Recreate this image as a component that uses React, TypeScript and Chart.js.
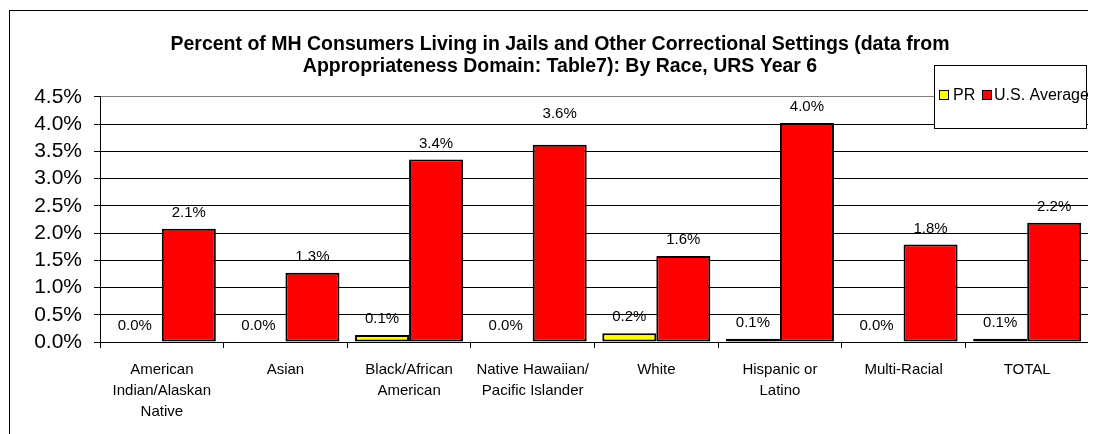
import React, { useEffect, useRef } from "react";
import { Chart, registerables } from "chart.js";

Chart.register(...registerables);

const categories: string[][] = [
  ["American", "Indian/Alaskan", "Native"],
  ["Asian"],
  ["Black/African", "American"],
  ["Native Hawaiian/", "Pacific Islander"],
  ["White"],
  ["Hispanic or", "Latino"],
  ["Multi-Racial"],
  ["TOTAL"],
];
const seriesNames = ["PR", "U.S. Average"];
const prValues = [0, 0, 0.13, 0, 0.16, 0.06, 0, 0.06];
const usValues = [2.08, 1.27, 3.35, 3.62, 1.58, 4.02, 1.79, 2.19];
const seriesColors = ["#FFFF00", "#FF0000"];
const titleLines = [
  "Percent of MH Consumers Living in Jails and Other Correctional Settings (data from",
  "Appropriateness Domain: Table7): By Race, URS Year 6",
];
const yMin = 0;
const yMax = 4.5;
const yStep = 0.5;

const FONT = "'Liberation Sans', Arial, sans-serif";

const framePlugin = {
  id: "frame",
  beforeDraw(chart: any) {
    const { ctx } = chart;
    ctx.save();
    ctx.fillStyle = "#fff";
    ctx.fillRect(0, 0, chart.width, chart.height);
    ctx.strokeStyle = "#000";
    ctx.lineWidth = 1;
    ctx.strokeRect(1.5, 2.5, chart.width + 100, chart.height + 100);
    ctx.restore();
  },
  afterDraw(chart: any) {
    const { ctx, chartArea } = chart;
    ctx.save();
    // right plot border
    ctx.strokeStyle = "#808080";
    ctx.lineWidth = 1;
    ctx.beginPath();
    ctx.moveTo(Math.round(chartArea.right) - 0.5, chartArea.top);
    ctx.lineTo(Math.round(chartArea.right) - 0.5, chartArea.bottom + 6);
    ctx.stroke();

    // legend
    const bx = 926.5, by = 57.5, bw = 152, bh = 63;
    ctx.fillStyle = "#fff";
    ctx.fillRect(bx, by, bw, bh);
    ctx.strokeStyle = "#000";
    ctx.strokeRect(bx, by, bw, bh);
    const cy = 87;
    ctx.font = `16px ${FONT}`;
    ctx.textBaseline = "middle";
    ctx.textAlign = "left";
    const items = [
      { sx: 931, tx: 945 },
      { sx: 974, tx: 986 },
    ];
    items.forEach((it, i) => {
      ctx.fillStyle = seriesColors[i];
      ctx.fillRect(it.sx + 0.5, cy - 5 + 0.5, 9, 9);
      ctx.strokeStyle = "#000";
      ctx.strokeRect(it.sx + 0.5, cy - 5 + 0.5, 9, 9);
      ctx.fillStyle = "#000";
      ctx.fillText(seriesNames[i], it.tx, cy + 1);
    });
    ctx.restore();
  },
  afterDatasetsDraw(chart: any) {
    const { ctx } = chart;
    ctx.save();
    ctx.font = `15px ${FONT}`;
    ctx.fillStyle = "#000";
    ctx.textAlign = "center";
    ctx.textBaseline = "middle";
    chart.data.datasets.forEach((ds: any, di: number) => {
      const meta = chart.getDatasetMeta(di);
      meta.data.forEach((el: any, i: number) => {
        const v = ds.data[i] as number;
        const lift = di === 1 && i === 3 ? 31 : 16;
        ctx.fillText(v.toFixed(1) + "%", el.x, el.y - lift);
      });
    });
    ctx.restore();
  },
};

export default function App() {
  const ref = useRef<HTMLCanvasElement>(null);
  useEffect(() => {
    if (!ref.current) return;
    const chart = new Chart(ref.current, {
      type: "bar",
      data: {
        labels: categories,
        datasets: [
          {
            label: seriesNames[0],
            data: prValues,
            backgroundColor: seriesColors[0],
            borderColor: "#000",
            borderWidth: 2,
            borderSkipped: false,
            barPercentage: 1,
            categoryPercentage: 0.874,
          },
          {
            label: seriesNames[1],
            data: usValues,
            backgroundColor: seriesColors[1],
            borderColor: "#000",
            borderWidth: 2,
            borderSkipped: false,
            barPercentage: 1,
            categoryPercentage: 0.874,
          },
        ],
      },
      options: {
        responsive: false,
        animation: false,
        layout: { padding: { left: 23, right: 7, top: 0, bottom: 0 } },
        plugins: {
          legend: { display: false },
          tooltip: { enabled: false },
          title: {
            display: true,
            text: titleLines,
            color: "#000",
            font: { family: FONT, size: 19.5, weight: "bold", lineHeight: 1.1 },
            padding: { top: 26, bottom: 20 },
          },
        },
        scales: {
          x: {
            grid: {
              offset: true,
              drawOnChartArea: false,
              drawTicks: true,
              tickLength: 6,
              tickColor: "#000",
              color: "#000",
            },
            border: { color: "#000", width: 1 },
            ticks: {
              color: "#000",
              font: { family: FONT, size: 15, lineHeight: 1.4 },
              padding: 11,
              maxRotation: 0,
              autoSkip: false,
            },
            afterFit: (s: any) => {
              s.height = 92;
            },
          },
          y: {
            min: yMin,
            max: yMax,
            grid: {
              color: (c: any) => (c.tick && c.tick.value === yMax ? "#808080" : "#000"),
              tickColor: "#000",
              tickLength: 6,
            },
            border: { color: "#000", width: 1 },
            ticks: {
              stepSize: yStep,
              autoSkip: false,
              color: "#000",
              font: { family: FONT, size: 21, lineHeight: 1 },
              padding: 12,
              callback: (v: any) => Number(v).toFixed(1) + "%",
            },
            afterFit: (s: any) => {
              s.width = 69;
            },
          },
        },
      },
      plugins: [framePlugin],
    });
    return () => chart.destroy();
  }, []);
  return <canvas ref={ref} width={1088} height={426} style={{ display: "block" }} />;
}
